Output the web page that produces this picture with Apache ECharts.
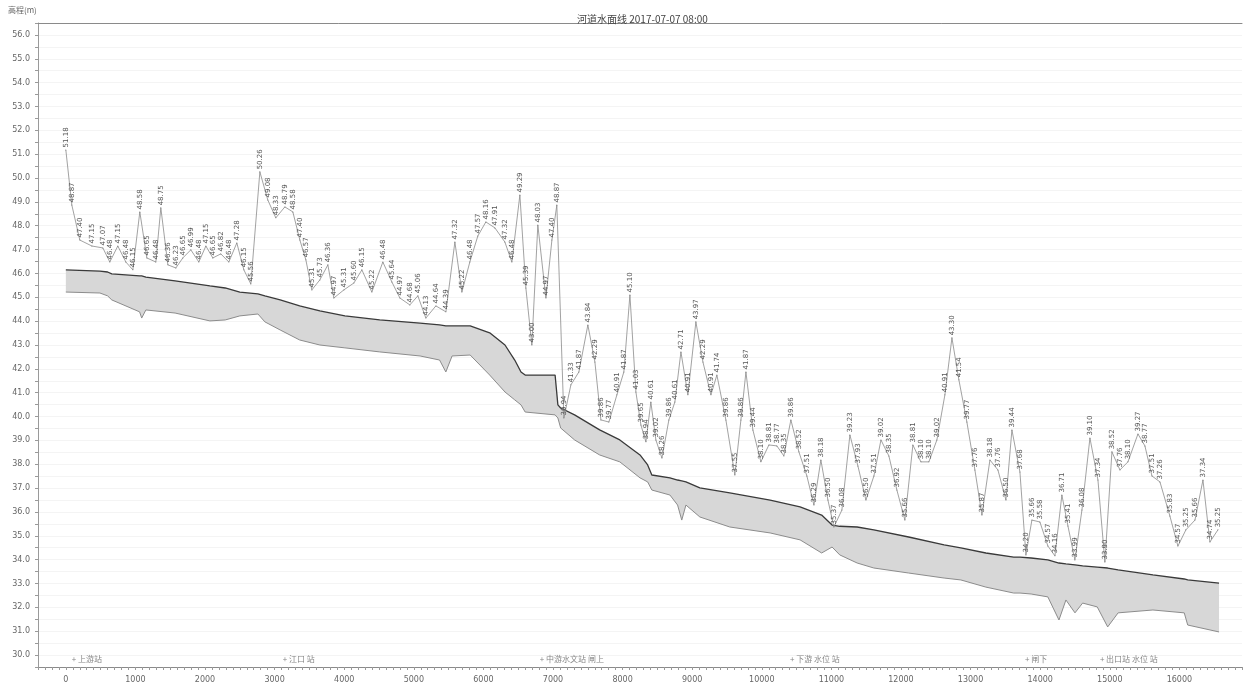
<!DOCTYPE html>
<html>
<head>
<meta charset="utf-8">
<title>河道水面线</title>
<script src="https://cdn.jsdelivr.net/npm/echarts@6/dist/echarts.min.js"></script>
<style>
  html, body { margin: 0; padding: 0; background: #fff; }
  #chart { width: 1246px; height: 698px; }
</style>
</head>
<body>
<div id="chart"></div>
<script>
// Longitudinal profile: water surface, bed and bank crest along the channel (distance in m, elevation in m)

// Cross-section stations for the water surface / bed band
const bandStations = [0,490,600,660,1060,1090,1150,1570,2070,2290,2500,2760,2860,3080,3360,3650,4010,4510,5090,5370,5460,5550,5810,6090,6310,6450,6540,6600,7030,7070,7110,7310,7670,7960,8250,8360,8420,8680,8790,8850,8910,9110,9540,10120,10550,10860,11010,11120,11370,11610,12110,12620,12860,13220,13620,13710,13870,14110,14270,14370,14500,14610,14820,14970,15120,15620,16070,16120,16570];
const waterLevel = [46.15,46.10,46.06,45.98,45.90,45.90,45.85,45.69,45.48,45.39,45.22,45.14,45.06,44.89,44.64,44.43,44.22,44.05,43.92,43.84,43.80,43.80,43.80,43.51,43.00,42.37,41.87,41.74,41.74,40.49,40.36,40.07,39.44,39.02,38.39,37.97,37.55,37.43,37.34,37.30,37.26,37.01,36.80,36.50,36.21,35.87,35.45,35.40,35.37,35.25,34.95,34.62,34.49,34.28,34.11,34.11,34.07,33.99,33.86,33.82,33.78,33.74,33.69,33.65,33.57,33.36,33.19,33.15,33.02];
const bedLevel = [45.22,45.18,45.06,44.89,44.39,44.13,44.47,44.34,44.01,44.05,44.22,44.30,43.97,43.63,43.21,43.00,42.88,42.71,42.54,42.37,41.87,42.54,42.58,41.74,41.03,40.70,40.49,40.19,40.07,39.94,39.52,39.02,38.39,38.10,37.43,37.26,36.92,36.71,36.29,35.66,36.29,35.79,35.37,35.12,34.83,34.28,34.53,34.20,33.86,33.65,33.44,33.23,33.15,32.85,32.60,32.60,32.56,32.44,31.47,32.31,31.77,32.18,32.02,31.18,31.77,31.89,31.77,31.26,30.97];

// Bank crest elevations at surveyed sections
const bankStations = [0,86,201,374,532,632,747,862,963,1063,1164,1293,1365,1466,1581,1681,1796,1911,2012,2112,2227,2342,2457,2558,2658,2788,2902,3017,3147,3262,3363,3449,3535,3650,3765,3851,3995,4139,4254,4397,4555,4685,4800,4943,5058,5173,5317,5461,5590,5691,5805,5920,6035,6165,6308,6409,6524,6610,6696,6782,6898,6984,7055,7156,7257,7372,7501,7602,7688,7803,7918,8018,8105,8191,8263,8335,8406,8478,8565,8665,8751,8838,8938,9053,9154,9269,9355,9484,9613,9700,9772,9872,9987,10102,10217,10317,10418,10533,10648,10749,10849,10950,11036,11151,11266,11381,11496,11611,11712,11826,11941,12056,12171,12286,12401,12516,12631,12732,12832,12947,13062,13163,13278,13393,13508,13594,13709,13795,13881,13996,14111,14212,14312,14399,14499,14600,14715,14830,14930,15031,15146,15261,15405,15505,15606,15721,15864,15979,16094,16224,16339,16439,16554];
const bankLevel = [51.18,48.87,47.40,47.15,47.07,46.48,47.15,46.48,46.15,48.58,46.65,46.48,48.75,46.36,46.23,46.65,46.99,46.48,47.15,46.65,46.82,46.48,47.28,46.15,45.56,50.26,49.08,48.33,48.79,48.58,47.40,46.57,45.31,45.73,46.36,44.97,45.31,45.60,46.15,45.22,46.48,45.64,44.97,44.68,45.06,44.13,44.64,44.39,47.32,45.22,46.48,47.57,48.16,47.91,47.32,46.48,49.29,45.39,43.00,48.03,44.97,47.40,48.87,39.94,41.33,41.87,43.84,42.29,39.86,39.77,40.91,41.87,45.10,41.03,39.65,38.94,40.61,39.02,38.26,39.86,40.61,42.71,40.91,43.97,42.29,40.91,41.74,39.86,37.55,39.86,41.87,39.44,38.10,38.81,38.77,38.35,39.86,38.52,37.51,36.29,38.18,36.50,35.37,36.08,39.23,37.93,36.50,37.51,39.02,38.35,36.92,35.66,38.81,38.10,38.10,39.02,40.91,43.30,41.54,39.77,37.76,35.87,38.18,37.76,36.50,39.44,37.68,34.20,35.66,35.58,34.57,34.16,36.71,35.41,33.99,36.08,39.10,37.34,33.90,38.52,37.76,38.10,39.27,38.77,37.51,37.26,35.83,34.57,35.25,35.66,37.34,34.74,35.25];

// Gauging stations along the reach
const gaugeNames = ['上游站', '江口 站', '中游水文站 闸上', '下游 水位 站', '闸下', '出口站 水位 站'];
const gaugeStations = [86, 3118, 6811, 10404, 13781, 14858];
const gaugeLabelLevel = 29.85;

// Axis ranges
const xMin = -400, xMax = 16900, xStep = 100, xLabelStep = 1000;
const yMin = 29.5, yMax = 56.5, yStep = 0.5;

const chart = echarts.init(document.getElementById('chart'), null, { renderer: 'canvas' });

const waterData = bandStations.map((x, i) => [x, waterLevel[i]]);
const bedData = bandStations.map((x, i) => [x, bedLevel[i]]);
const bankData = bankStations.map((x, i) => [x, bankLevel[i]]);
const gaugeData = gaugeStations.map((x, i) => [x, gaugeLabelLevel, gaugeNames[i]]);

const option = {
  animation: false,
  backgroundColor: '#ffffff',
  title: {
    text: '河道水面线 2017-07-07 08:00',
    left: 572, top: 9,
    textStyle: { fontSize: 10, fontWeight: 'normal', color: '#444', fontFamily: 'Noto Sans CJK SC' }
  },
  graphic: [{
    type: 'text', left: 8, top: 6,
    style: { text: '高程(m)', fontSize: 8, fill: '#666', fontFamily: 'Noto Sans CJK SC' }
  }],
  grid: { left: 38, right: 4, top: 23, bottom: 31 },
  xAxis: [{
    type: 'value', min: xMin, max: xMax, interval: xStep,
    axisLine: { onZero: false, lineStyle: { color: '#8a8a8a', width: 1 } },
    axisTick: { length: 3, lineStyle: { color: '#9a9a9a' } },
    axisLabel: {
      fontSize: 8, color: '#666', margin: 9, fontFamily: 'DejaVu Sans',
      formatter: v => (Math.abs(Math.round(v) % xLabelStep) === 0 && v >= 0 ? String(Math.round(v)) : '')
    },
    splitLine: { show: false }
  }, {
    type: 'value', position: 'top', min: xMin, max: xMax,
    axisLine: { show: true, onZero: false, lineStyle: { color: '#8a8a8a', width: 1 } },
    axisTick: { show: false }, axisLabel: { show: false }, splitLine: { show: false }
  }],
  yAxis: {
    type: 'value', min: yMin, max: yMax, interval: yStep,
    axisLine: { show: true, onZero: false, lineStyle: { color: '#9a9a9a' } },
    axisTick: { show: true, length: 3, lineStyle: { color: '#9a9a9a' } },
    axisLabel: {
      fontSize: 8, color: '#666', margin: 8, fontFamily: 'DejaVu Sans',
      formatter: v => (Math.abs(v - Math.round(v)) < 1e-6 ? Math.round(v).toFixed(1) : '')
    },
    splitLine: { show: true, lineStyle: { color: '#f4f4f4', width: 1 } }
  },
  series: [
    {
      // shaded flow section between water surface and bed
      type: 'custom',
      name: '过水断面',
      clip: true,
      data: [[bandStations[0], waterLevel[0]]],
      renderItem: (params, api) => {
        const top = waterData.map(p => api.coord(p));
        const bottom = bedData.map(p => api.coord(p)).reverse();
        return {
          type: 'polygon',
          shape: { points: top.concat(bottom) },
          style: { fill: '#d7d7d7', stroke: null }
        };
      },
      z: 1
    },
    {
      type: 'line', name: '河底高程', data: bedData,
      symbol: 'none', lineStyle: { color: '#8c8c8c', width: 1 }, z: 2
    },
    {
      type: 'line', name: '水面线', data: waterData,
      symbol: 'none', lineStyle: { color: '#3a3a3a', width: 1.3 }, z: 3
    },
    {
      type: 'line', name: '堤顶高程', data: bankData,
      symbol: 'circle', symbolSize: 1,
      itemStyle: { color: '#777' },
      lineStyle: { color: '#8a8a8a', width: 0.8 },
      label: {
        show: true, position: 'top', rotate: 90, align: 'left', verticalAlign: 'middle',
        distance: 2, fontSize: 7, color: '#555', fontFamily: 'DejaVu Sans',
        formatter: p => p.value[1].toFixed(2)
      },
      z: 4
    },
    {
      type: 'scatter', name: '水文站', data: gaugeData,
      symbolSize: 0,
      label: {
        show: true, position: 'right', distance: 0, fontSize: 8, color: '#666',
        fontFamily: 'Noto Sans CJK SC',
        formatter: p => '+ ' + p.value[2]
      },
      z: 5
    }
  ]
};

chart.setOption(option);
</script>
</body>
</html>
